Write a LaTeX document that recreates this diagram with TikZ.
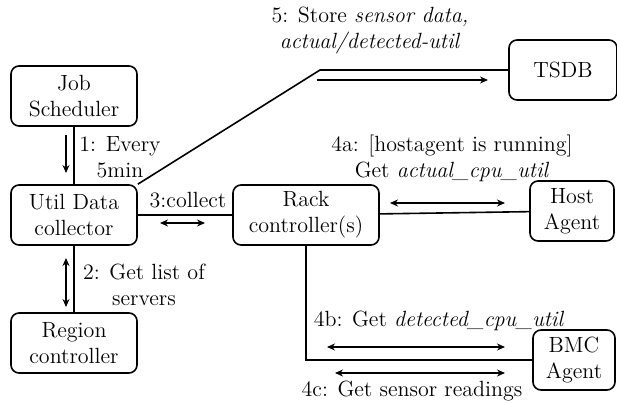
\documentclass[tikz,border=0pt]{standalone}
\usetikzlibrary{arrows.meta}

\begin{document}
\begin{tikzpicture}[x=0.5pt, y=-0.5pt]
\tikzset{boite/.style={draw, rounded corners=4pt, line width=0.8pt, align=center, minimum height=30pt, inner sep=1pt, font=\fontsize{11}{13}\selectfont},
  etiq/.style={align=center, inner sep=0pt, font=\fontsize{11}{13}\selectfont},
  lien/.style={line width=0.8pt},
  fl/.style={line width=0.8pt, -{Stealth[length=4pt, width=3.5pt]}},
  dfl/.style={line width=0.8pt, {Stealth[length=4pt, width=3.5pt]}-{Stealth[length=4pt, width=3.5pt]}}}
\useasboundingbox (0,0) rectangle (617,403);
\node[boite, minimum width=63pt] (JS) at (74,96) {Job\\Scheduler};
\node[boite, minimum width=63pt] (UDC) at (74,215) {Util Data\\collector};
\node[boite, minimum width=63pt] (RC) at (74,343) {Region\\controller};
\node[boite, minimum width=73pt] (RK) at (306,215) {Rack\\controller(s)};
\node[boite, minimum width=42pt] (HA) at (572,211) {Host\\Agent};
\node[boite, minimum width=54pt] (TS) at (563,70) {TSDB};
\node[boite, minimum width=41pt] (BMC) at (574,360) {BMC\\Agent};
\coordinate (C5) at (320,70);
\draw[lien] (JS) -- (UDC);
\draw[lien] (UDC) -- (RC);
\draw[lien] (UDC) -- (RK);
\draw[lien] (RK) -- (HA);
\draw[lien] (UDC.north east) -- (C5) -- (TS);
\draw[lien] (RK.south) |- (BMC);
\draw[fl] (66,135) -- (66,173);
\draw[dfl] (66,258) -- (66,307);
\draw[dfl] (160,223) -- (205,223);
\draw[fl] (317,80) -- (488,80);
\draw[dfl] (390,203) -- (505,203);
\draw[dfl] (327,347) -- (505,347);
\draw[dfl] (335,373) -- (505,373);
\node[etiq] (L1) at (120,157) {1: Every\\5min};
\node[etiq] (L2) at (144,285) {2: Get list of\\servers};
\node[etiq] (L3) at (188,200) {3:collect};
\node[etiq] (L5) at (370,30) {5: Store \textit{sensor data,}\\\textit{actual/detected-util}};
\node[etiq] (L4a) at (452,158) {4a: [hostagent is running]\\Get \textit{actual\_cpu\_util}};
\node[etiq] (L4b) at (439,321) {4b: Get \textit{detected\_cpu\_util}};
\node[etiq] (L4c) at (412,391) {4c: Get sensor readings};
\end{tikzpicture}
\end{document}
